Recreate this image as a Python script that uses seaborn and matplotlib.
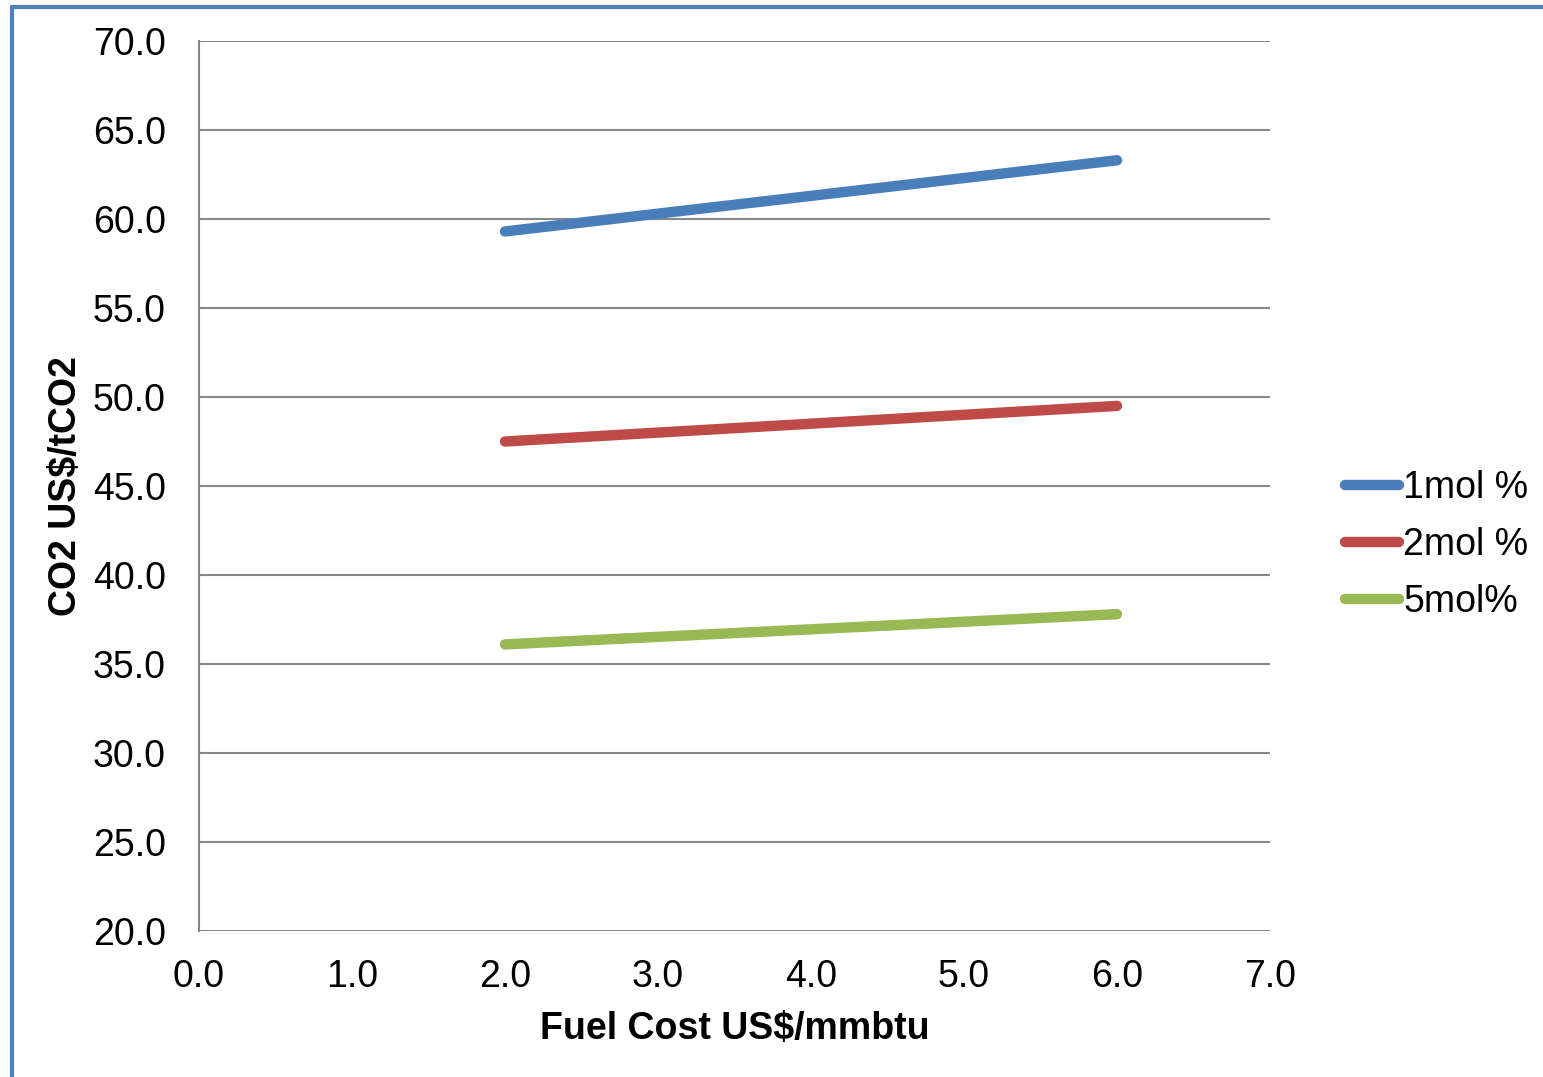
import matplotlib
matplotlib.use("Agg")
import matplotlib.pyplot as plt
from matplotlib.lines import Line2D
import seaborn as sns
import pandas as pd

# Fuel cost (US$/mmbtu) and CO2 cost (US$/tCO2) for each CO2 concentration
fuel_cost = [2.0, 6.0]
co2_1mol = [59.3, 63.3]
co2_2mol = [47.5, 49.5]
co2_5mol = [36.1, 37.8]
series_names = ["1mol %", "2mol %", "5mol%"]
series_colors = ["#4A7EBB", "#BE4B48", "#98B954"]

x_ticks = [0, 1, 2, 3, 4, 5, 6, 7]
y_ticks = [20, 25, 30, 35, 40, 45, 50, 55, 60, 65, 70]

df = pd.DataFrame({
    "fuel": fuel_cost * 3,
    "co2": co2_1mol + co2_2mol + co2_5mol,
    "series": [series_names[0]] * 2 + [series_names[1]] * 2 + [series_names[2]] * 2,
})

sns.set_theme(style="white")
plt.rcParams["font.family"] = ["Liberation Sans", "DejaVu Sans"]
plt.rcParams["text.color"] = "black"
plt.rcParams["axes.labelcolor"] = "black"

FS = 27

fig = plt.figure(figsize=(15.43, 10.77), dpi=100)
ax = fig.add_axes([199 / 1543, 1 - 931 / 1077, (1270 - 199) / 1543, (931 - 41) / 1077])

sns.lineplot(data=df, x="fuel", y="co2", hue="series", hue_order=series_names,
             palette=series_colors, linewidth=7.5, ax=ax, legend=False,
             solid_capstyle="round")

ax.set_xlim(0, 7)
ax.set_ylim(20, 70)
ax.set_xticks(x_ticks)
ax.set_yticks(y_ticks)
ax.set_xticklabels([f"{v:.1f}" for v in x_ticks], fontsize=FS)
ax.set_yticklabels([f"{v:.1f}" for v in y_ticks], fontsize=FS)
ax.tick_params(axis="both", length=0, colors="black")
ax.tick_params(axis="y", pad=24)
ax.tick_params(axis="x", pad=20)

ax.grid(axis="y", color="#888888", linewidth=1.5)
ax.grid(axis="x", visible=False)
ax.set_axisbelow(True)
for side in ["top", "right", "bottom"]:
    ax.spines[side].set_visible(False)
ax.spines["left"].set_color("#888888")
ax.spines["left"].set_linewidth(1.5)

ax.set_xlabel("Fuel Cost US$/mmbtu", fontsize=FS, fontweight="bold", labelpad=12)
ax.set_ylabel("CO2 US$/tCO2", fontsize=FS, fontweight="bold", labelpad=6)

handles = [Line2D([0], [0], color=c, linewidth=7.5, solid_capstyle="round")
           for c in series_colors]
fig.legend(handles, series_names, loc="center left",
           bbox_to_anchor=(1345 / 1543, 1 - 545 / 1077), frameon=False,
           fontsize=FS, handlelength=1.45, handletextpad=0.1, labelspacing=0.56,
           borderaxespad=0, borderpad=0)

# chart-area border (top and left edges)
border = dict(color="#4F81BD", linewidth=3, transform=fig.transFigure, clip_on=False)
fig.add_artist(Line2D([11.5 / 1543, 1.0], [1 - 7 / 1077, 1 - 7 / 1077], **border))
fig.add_artist(Line2D([11.5 / 1543, 11.5 / 1543], [0, 1 - 7 / 1077], **border))

fig.savefig("out.png", dpi=100, facecolor="white")
